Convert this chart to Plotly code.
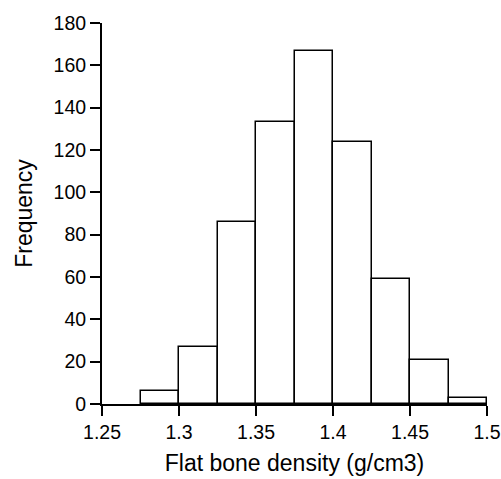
import plotly.graph_objects as go

bin_starts = [1.275, 1.300, 1.325, 1.350, 1.375, 1.400, 1.425, 1.450, 1.475]
bin_width = 0.025
counts = [6, 27, 86, 133, 167, 124, 59, 21, 3]
x_ticks = [1.25, 1.3, 1.35, 1.4, 1.45, 1.5]
x_tick_labels = ["1.25", "1.3", "1.35", "1.4", "1.45", "1.5"]
y_ticks = [0, 20, 40, 60, 80, 100, 120, 140, 160, 180]

centers = [s + bin_width / 2 for s in bin_starts]

fig = go.Figure(go.Bar(
    x=centers, y=counts, width=[bin_width] * len(counts),
    marker=dict(color="white", line=dict(color="black", width=1.5)),
))

font = dict(family="Liberation Sans, Arial, sans-serif", color="black")
fig.update_layout(
    width=501, height=479,
    margin=dict(l=102, r=14, t=23, b=75, autoexpand=False),
    paper_bgcolor="white", plot_bgcolor="white",
    showlegend=False, bargap=0,
    font=font,
)
fig.update_xaxes(
    range=[1.25, 1.5], tickvals=x_ticks, ticktext=x_tick_labels,
    showline=True, linecolor="black", linewidth=2, mirror=False,
    ticks="outside", ticklen=10, tickwidth=2, tickcolor="black",
    ticklabelstandoff=0,
    showgrid=False, zeroline=False, tickfont=dict(size=19.5, **font),
    title=dict(text="Flat bone density (g/cm3)", font=dict(size=23, **font), standoff=12),
)
fig.update_yaxes(
    range=[0, 180], tickvals=y_ticks,
    showline=True, linecolor="black", linewidth=2,
    ticks="outside", ticklen=10, tickwidth=2, tickcolor="black",
    ticklabelstandoff=0,
    showgrid=False, zeroline=False, tickfont=dict(size=19.5, **font),
    title=dict(text="Frequency", font=dict(size=23, **font), standoff=15),
)
fig.write_html(
    "out.html",
    config={"displayModeBar": False},
    post_script="document.body.style.margin='0';document.body.style.overflow='hidden';",
)
